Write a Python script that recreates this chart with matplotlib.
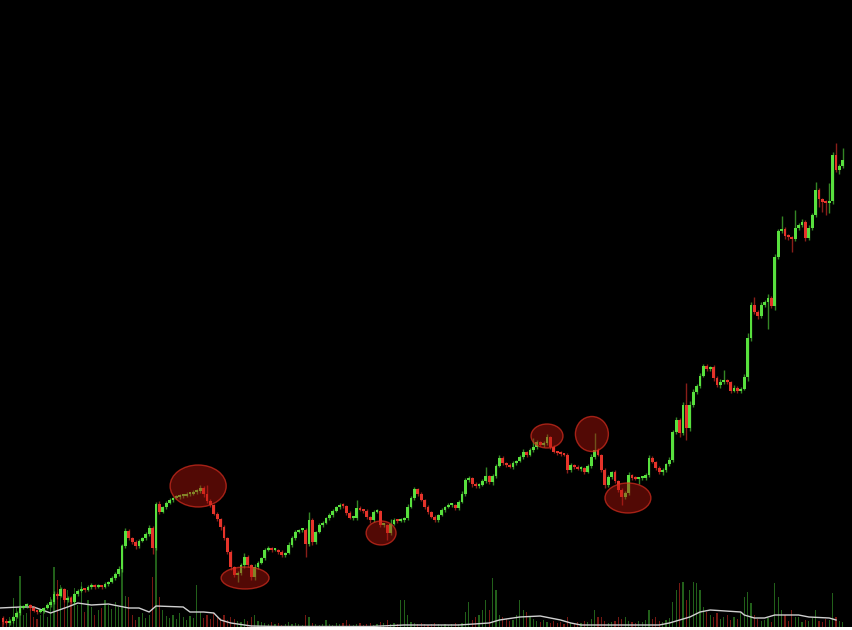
import matplotlib.pyplot as plt
from matplotlib.patches import Ellipse
import numpy as np

# 終値 (価格単位は画面から読んだ相対値)
close = [8, 7, 9, 13, 17, 22, 24, 25, 22, 19,
         18, 19, 22, 25, 28, 36, 34, 41, 30, 32,
         28, 36, 39, 41, 40, 43, 45, 43, 44, 43,
         46, 48, 52, 56, 61, 84, 99, 92, 88, 84,
         89, 92, 96, 102, 82, 126, 118, 123, 127, 130,
         132, 133, 134, 134, 136, 136, 138, 139, 142, 136,
         129, 125, 116, 111, 103, 92, 78, 63, 55, 57,
         65, 73, 65, 53, 63, 67, 72, 80, 82, 80,
         80, 78, 75, 77, 85, 92, 98, 100, 100, 86,
         110, 88, 98, 105, 107, 112, 115, 119, 123, 125,
         124, 117, 112, 112, 122, 120, 119, 113, 110, 118,
         119, 105, 105, 97, 106, 110, 109, 110, 112, 123,
         132, 141, 136, 130, 123, 118, 113, 110, 115, 120,
         123, 125, 125, 122, 128, 136, 150, 152, 146, 144,
         145, 149, 154, 148, 154, 164, 172, 167, 165, 163,
         167, 169, 173, 178, 175, 180, 183, 188, 185, 187,
         193, 183, 178, 177, 176, 175, 160, 165, 163, 161,
         162, 158, 164, 173, 180, 175, 160, 145, 153, 158,
         149, 140, 133, 137, 155, 152, 151, 152, 152, 155,
         172, 168, 162, 158, 160, 166, 170, 198, 210, 197,
         225, 202, 225, 238, 244, 254, 264, 261, 263, 252,
         245, 248, 249, 248, 239, 242, 239, 241, 253, 292,
         325, 318, 314, 325, 328, 332, 324, 373, 399, 401,
         394, 393, 391, 402, 405, 408, 392, 402, 415, 440,
         431, 428, 427, 429, 475, 460, 464, 470]
first_open = 12

# ヒゲの長さ
wick_up = [2, 1, 2, 1, 2, 3, 1, 2, 1, 2,
           1, 2, 1, 2, 3, 3, 2, 2, 1, 2,
           2, 1, 2, 3, 1, 2, 2, 1, 2, 1,
           2, 1, 2, 2, 3, 2, 3, 2, 1, 2,
           2, 1, 2, 3, 2, 2, 3, 1, 2, 2,
           1, 2, 2, 1, 2, 1, 2, 2, 3, 2,
           9, 2, 1, 2, 1, 2, 1, 2, 1, 2,
           2, 4, 2, 1, 3, 2, 1, 2, 2, 1,
           2, 1, 2, 1, 3, 2, 2, 1, 2, 2,
           8, 2, 1, 2, 2, 1, 2, 2, 1, 2,
           2, 1, 2, 1, 8, 2, 1, 2, 1, 2,
           2, 1, 2, 1, 5, 2, 1, 2, 1, 3,
           2, 2, 1, 2, 1, 2, 1, 2, 1, 2,
           1, 2, 2, 1, 2, 3, 2, 2, 1, 2,
           2, 2, 9, 1, 2, 2, 3, 2, 1, 2,
           2, 1, 2, 3, 1, 2, 9, 2, 1, 2,
           3, 1, 2, 1, 2, 1, 2, 2, 1, 2,
           2, 1, 2, 3, 17, 2, 1, 2, 2, 1,
           2, 1, 2, 2, 3, 1, 2, 1, 2, 2,
           3, 2, 1, 2, 2, 1, 3, 2, 3, 2,
           3, 22, 4, 3, 2, 3, 2, 2, 1, 2,
           2, 3, 11, 2, 1, 3, 2, 2, 3, 5,
           3, 8, 2, 3, 2, 4, 2, 3, 2, 13,
           2, 2, 1, 18, 2, 3, 2, 3, 2, 8,
           2, 1, 2, 18, 3, 12, 2, 12]
wick_dn = [2, 1, 2, 2, 1, 2, 1, 2, 2, 1,
           2, 1, 2, 1, 2, 2, 3, 1, 2, 2,
           1, 2, 2, 1, 2, 1, 2, 2, 1, 2,
           1, 2, 1, 2, 2, 3, 2, 2, 2, 3,
           2, 1, 2, 2, 6, 2, 2, 1, 2, 1,
           2, 1, 2, 2, 1, 2, 1, 2, 2, 3,
           2, 2, 1, 2, 3, 2, 2, 3, 2, 7,
           2, 3, 2, 3, 3, 2, 1, 2, 1, 2,
           1, 2, 2, 2, 1, 2, 2, 1, 2, 13,
           2, 3, 2, 1, 2, 1, 2, 2, 1, 2,
           2, 2, 1, 2, 2, 1, 2, 2, 3, 2,
           1, 2, 2, 7, 2, 1, 2, 1, 2, 2,
           1, 2, 2, 1, 2, 2, 1, 2, 2, 1,
           2, 1, 2, 2, 2, 1, 2, 2, 3, 2,
           2, 1, 2, 2, 3, 2, 1, 2, 2, 1,
           2, 2, 1, 2, 2, 1, 2, 2, 1, 2,
           2, 2, 1, 2, 2, 1, 3, 2, 2, 1,
           2, 2, 1, 2, 2, 1, 2, 3, 2, 2,
           2, 2, 8, 2, 2, 2, 1, 5, 2, 2,
           2, 1, 2, 2, 3, 2, 2, 2, 2, 4,
           2, 12, 3, 2, 2, 2, 1, 2, 2, 3,
           2, 3, 2, 2, 2, 1, 2, 2, 1, 4,
           3, 2, 3, 2, 2, 27, 2, 4, 2, 2,
           3, 3, 13, 2, 2, 2, 3, 2, 2, 2,
           8, 10, 12, 10, 3, 2, 4, 2]

# 出来高
volume = [5, 8, 10, 29, 20, 51, 12, 14, 17, 10,
          8, 12, 19, 10, 30, 60, 47, 42, 27, 37,
          30, 39, 22, 45, 15, 27, 20, 12, 17, 19,
          27, 22, 18, 25, 20, 82, 31, 30, 12, 7,
          10, 14, 9, 12, 50, 107, 30, 17, 11, 9,
          12, 8, 14, 10, 7, 11, 9, 42, 15, 9,
          12, 8, 14, 10, 9, 12, 7, 10, 8, 6,
          5, 8, 6, 10, 12, 6, 5, 4, 3, 5,
          3, 4, 2, 3, 5, 3, 4, 3, 2, 12,
          10, 4, 3, 2, 3, 7, 3, 2, 4, 3,
          4, 7, 3, 2, 3, 4, 2, 3, 4, 2,
          3, 5, 4, 7, 3, 4, 3, 27, 27, 12,
          5, 4, 3, 4, 3, 2, 3, 4, 3, 2,
          3, 2, 3, 4, 3, 4, 15, 25, 7, 10,
          12, 17, 27, 17, 49, 37, 12, 10, 8, 6,
          7, 12, 27, 17, 15, 10, 8, 6, 5, 7,
          5, 4, 6, 4, 5, 3, 10, 4, 3, 5,
          4, 6, 5, 8, 17, 10, 10, 6, 4, 5,
          6, 10, 8, 10, 6, 5, 4, 6, 5, 7,
          17, 8, 10, 6, 5, 7, 9, 25, 37, 44,
          45, 27, 37, 45, 44, 37, 20, 15, 12, 10,
          14, 8, 10, 12, 7, 10, 8, 15, 30, 35,
          24, 12, 8, 6, 7, 9, 5, 44, 30, 17,
          12, 6, 17, 10, 10, 5, 7, 6, 9, 17,
          6, 5, 8, 7, 34, 10, 6, 5]

# 出来高の移動平均線 (白線)
ma_idx = [-1, 5, 9, 14, 19, 22, 26, 31, 37, 40, 43, 45, 53, 55, 59, 62, 64, 67,
          73, 81, 108, 118, 134, 143, 146, 152, 158, 164, 167, 170, 193, 196,
          202, 205, 208, 217, 218, 221, 224, 227, 234, 237, 243, 245]
ma_val = [19, 20, 20, 14, 20, 24, 22, 23, 19, 19, 15, 21, 20, 15, 15, 14, 7, 4,
          1, 0.5, 0.5, 2, 2, 4, 7, 10, 11, 7, 4, 2, 2, 4,
          10, 15, 17, 15, 12, 9, 9, 12, 12, 10, 9, 7]

# 注目箇所 (中心インデックス, 中心価格, 幅, 高さ)
marks = [(57.4, 144, 16.5, 42), (71.2, 52, 14.1, 22), (111.2, 97, 8.8, 24),
         (160.0, 194, 9.4, 24), (173.2, 196, 9.7, 35), (183.8, 132, 13.5, 30)]

close = np.array(close, dtype=float)
opn = np.concatenate([[first_open], close[:-1]])
x = np.arange(len(close))
hi = np.maximum(opn, close) + np.array(wick_up)
lo = np.minimum(opn, close) - np.array(wick_dn)
up = close >= opn

GREEN = "#58e03e"
RED = "#e5332a"

fig = plt.figure(figsize=(8.52, 6.30), dpi=100, facecolor="white")
ax = fig.add_axes([0, 3 / 630, 1, 627 / 630])
axv = ax.twinx()
ax.set_zorder(axv.get_zorder() + 1)
ax.patch.set_visible(False)
axv.patch.set_visible(True)
axv.set_facecolor("black")

# 出来高
vcol = np.where(up, "#22601a", "#761812")
axv.bar(x, volume, width=0.35, color=vcol, linewidth=0)
axv.plot(ma_idx, ma_val, color="#d0d0d0", lw=1.0)
axv.set_ylim(0, 627)

# ローソク足
cols = np.where(up, GREEN, RED)
ax.vlines(x, lo, hi, colors=cols, lw=1.0, alpha=0.6)
body = np.maximum(np.abs(close - opn), 2)
ax.bar(x, body, bottom=np.minimum(opn, close), width=0.8, color=cols, linewidth=0)

for cx, cy, w, h in marks:
    ax.add_patch(Ellipse((cx, cy), w, h, facecolor=(0.72, 0.08, 0.05, 0.45),
                         edgecolor=(0.85, 0.18, 0.12, 0.7), lw=1.0, zorder=5))

ax.set_xlim(-0.88, 249.7)
ax.set_ylim(3, 630)
for a in (ax, axv):
    a.set_xticks([])
    a.set_yticks([])
    for s in a.spines.values():
        s.set_visible(False)

fig.savefig("out.png", dpi=100, facecolor="white")
